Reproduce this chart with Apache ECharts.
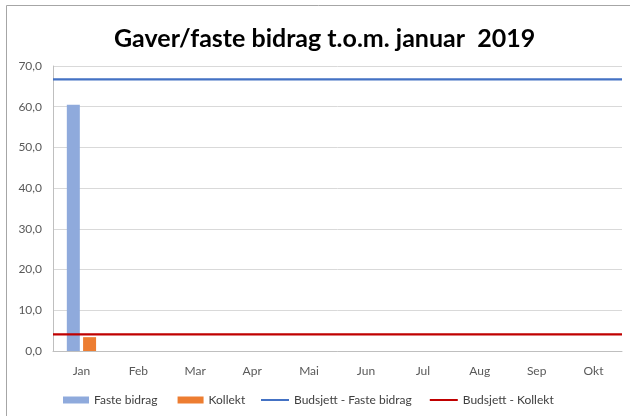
<!DOCTYPE html>
<html><head><meta charset="utf-8">
<script src="https://cdn.jsdelivr.net/npm/echarts@6/dist/echarts.min.js"></script>
<style>html,body{margin:0;padding:0;background:#fff}#c{width:630px;height:416px}</style>
</head><body><div id="c"></div>
<script>
const categories = ['Jan','Feb','Mar','Apr','Mai','Jun','Jul','Aug','Sep','Okt'];
const fasteBidrag = [60.5, null, null, null, null, null, null, null, null, null];
const kollekt = [3.4, null, null, null, null, null, null, null, null, null];
const budsjettFaste = [66.7, 66.7, 66.7, 66.7, 66.7, 66.7, 66.7, 66.7, 66.7, 66.7];
const budsjettKollekt = [4.1, 4.1, 4.1, 4.1, 4.1, 4.1, 4.1, 4.1, 4.1, 4.1];
const titleText = 'Gaver/faste bidrag t.o.m. januar  2019';

const FONT = 'Lato';
const legendText = {fontFamily:FONT,fontSize:12,color:'#404040'};
const chart = echarts.init(document.getElementById('c'), null, {renderer:'canvas'});
chart.setOption({
  animation:false,
  backgroundColor:'#fff',
  textStyle:{fontFamily:FONT},
  graphic:[
    {type:'line',silent:true,shape:{x1:6.5,y1:5.5,x2:630,y2:5.5},style:{stroke:'#a6a6a6',lineWidth:1}},
    {type:'line',silent:true,shape:{x1:6.5,y1:5.5,x2:6.5,y2:416},style:{stroke:'#a6a6a6',lineWidth:1}}
  ],
  title:{text:titleText,left:109,top:21,textStyle:{fontFamily:FONT,fontSize:25,fontWeight:'bold',color:'#000'}},
  grid:{left:53,right:8,top:66,bottom:65,containLabel:false},
  legend:[
    {bottom:5,left:58,itemWidth:26,itemHeight:7,itemGap:20,icon:'rect',textStyle:legendText,
     data:['Faste bidrag','Kollekt']},
    {bottom:5,left:256,itemWidth:28,itemHeight:2,itemGap:18,icon:'rect',textStyle:legendText,
     data:['Budsjett - Faste bidrag','Budsjett - Kollekt']}
  ],
  xAxis:[
    {type:'category',data:categories,boundaryGap:true,
     axisLine:{lineStyle:{color:'#bfbfbf'}},axisTick:{show:false},
     axisLabel:{fontFamily:FONT,fontSize:12,color:'#595959',margin:14}},
    {type:'category',data:categories,boundaryGap:false,show:false}
  ],
  yAxis:{type:'value',min:0,max:70,interval:10,
    axisLine:{show:true,lineStyle:{color:'#bfbfbf'}},axisTick:{show:false},
    splitLine:{lineStyle:{color:'#d9d9d9'}},
    axisLabel:{fontFamily:FONT,fontSize:12,color:'#595959',margin:11,formatter:v=>v.toFixed(1).replace('.',',')}},
  series:[
    {name:'Faste bidrag',type:'bar',data:fasteBidrag,barWidth:13,barGap:'25%',itemStyle:{color:'#8faadc'}},
    {name:'Kollekt',type:'bar',data:kollekt,barWidth:13,barGap:'25%',itemStyle:{color:'#ed7d31'}},
    {name:'Budsjett - Faste bidrag',type:'line',xAxisIndex:1,data:budsjettFaste,symbol:'none',lineStyle:{color:'#4472c4',width:2.2},itemStyle:{color:'#4472c4'},z:3},
    {name:'Budsjett - Kollekt',type:'line',xAxisIndex:1,data:budsjettKollekt,symbol:'none',lineStyle:{color:'#c00000',width:2.2},itemStyle:{color:'#c00000'},z:3}
  ]
});
</script></body></html>
